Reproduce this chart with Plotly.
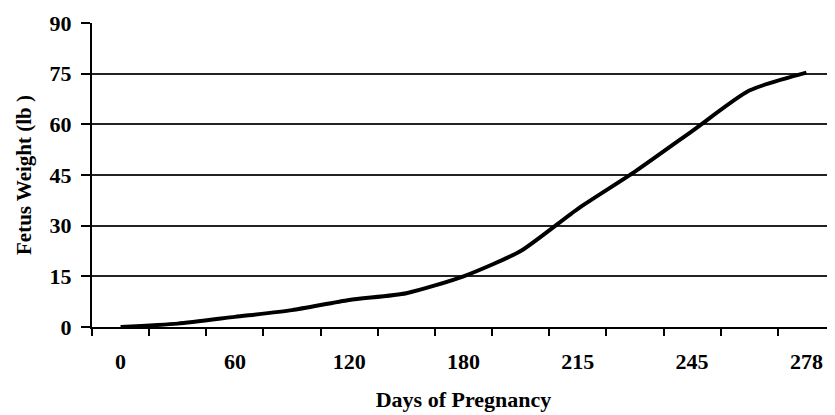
import plotly.graph_objects as go

# days (category axis, evenly spaced) and fetus weight
days = ["0", "30", "60", "90", "120", "150", "180", "198", "215", "230", "245", "262", "278"]
weight_lb = [0, 1, 3, 5, 8, 10, 15, 22.5, 35, 46, 58, 70, 75.3]
shown_days = ["0", "60", "120", "180", "215", "245", "278"]

font_family = "Liberation Serif"

fig = go.Figure()

fig.add_trace(
    go.Scatter(x=days,
               y=weight_lb,
               mode="lines",
               line=dict(color="black", width=4, shape="spline", smoothing=0.6),
               showlegend=False)
)

fig.update_xaxes(
    type="category",
    range=[-0.5, len(days) - 0.5],
    tickmode="array",
    tickvals=days,
    ticktext=[d if d in shown_days else "" for d in days],
    tickson="boundaries",
    ticks="outside", ticklen=7, tickwidth=2, tickcolor="black",
    ticklabelstandoff=14,
    showline=True, linecolor="black", linewidth=2,
    showgrid=False, zeroline=False,
    tickfont=dict(family=font_family, size=22, color="black", weight="bold"),
    title=dict(text="Days of Pregnancy", standoff=18,
               font=dict(family=font_family, size=22, color="black", weight="bold")),
)

fig.update_yaxes(
    range=[0, 90],
    tickmode="array",
    tickvals=[0, 15, 30, 45, 60, 75, 90],
    ticks="outside", ticklen=9, tickwidth=2, tickcolor="black",
    ticklabelstandoff=5,
    showline=True, linecolor="black", linewidth=2,
    showgrid=True, gridcolor="#222222", gridwidth=2,
    zeroline=False,
    tickfont=dict(family=font_family, size=22, color="black", weight="bold"),
    title=dict(text="Fetus Weight (lb )", standoff=12,
               font=dict(family=font_family, size=21, color="black", weight="bold")),
)

# page body adds an 8px offset, so the figure is drawn a little smaller
fig.update_layout(
    width=827, height=407,
    margin=dict(l=84, r=0, t=15, b=88),
    plot_bgcolor="white",
    paper_bgcolor="white",
)

fig.write_html("out.html")
